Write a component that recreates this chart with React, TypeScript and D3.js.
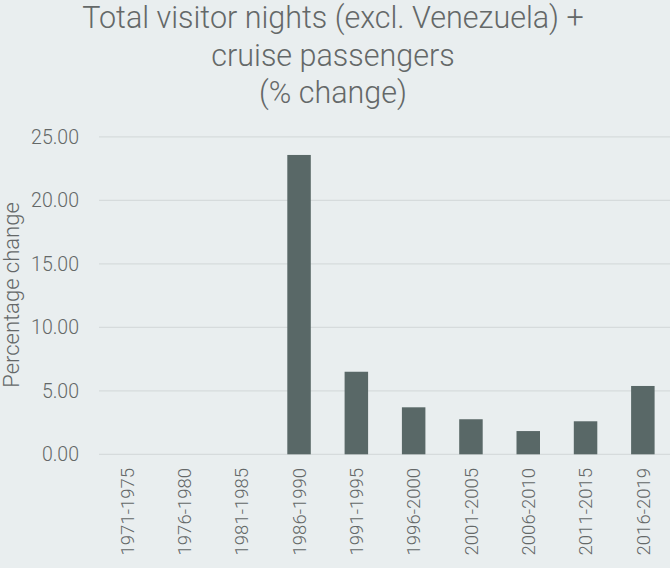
import React from "react";
import * as d3 from "d3";

const categories = ["1971-1975","1976-1980","1981-1985","1986-1990","1991-1995","1996-2000","2001-2005","2006-2010","2011-2015","2016-2019"];
const values = [0, 0, 0, 23.57, 6.5, 3.7, 2.76, 1.83, 2.6, 5.38];
const yTicks = [0, 5, 10, 15, 20, 25];
const titleLines = ["Total visitor nights (excl. Venezuela) +", "cruise passengers", "(% change)"];
const yLabel = "Percentage change";

export default function App() {
  const W = 670, H = 568;
  const x = d3.scaleBand<string>().domain(categories).range([98.5, 671.5]).paddingInner(0.59).paddingOuter(0.295);
  const y = d3.scaleLinear().domain([0, 25]).range([454.3, 136.8]);
  const font = "Roboto, 'Helvetica Neue', Arial, sans-serif";
  const txt = "#646868";
  return (
    <svg width={W} height={H} style={{ position: "absolute", left: 0, top: 0, background: "#E9EEEF" }} fontFamily={font}>
      <rect x={0} y={0} width={W} height={H} fill="#E9EEEF" />
      {titleLines.map((t, i) => (
        <text key={i} x={333} y={28 + i * 37.5} textAnchor="middle" fontSize={30.5} fontWeight={300} fill={txt}>{t}</text>
      ))}
      {yTicks.map(t => (
        <g key={t}>
          <line x1={99} x2={670} y1={y(t)} y2={y(t)} stroke="#D6DBDC" strokeWidth={1.2} />
          <text x={79} y={y(t)} dy="0.36em" textAnchor="end" fontSize={19.5} fontWeight={300} fill={txt}>{d3.format(".2f")(t)}</text>
        </g>
      ))}
      <text transform={`translate(19,295) rotate(-90)`} textAnchor="middle" fontSize={22} fontWeight={300} fill={txt}>{yLabel}</text>
      {categories.map((c, i) => (
        <rect key={c} x={x(c)} y={y(values[i])} width={x.bandwidth()} height={y(0) - y(values[i])} fill="#596867" />
      ))}
      {categories.map(c => (
        <text key={c} transform={`translate(${(x(c) as number) + x.bandwidth() / 2},468) rotate(-90)`} textAnchor="end" dy="0.36em" fontSize={18.5} fontWeight={300} fill={txt}>{c}</text>
      ))}
    </svg>
  );
}
